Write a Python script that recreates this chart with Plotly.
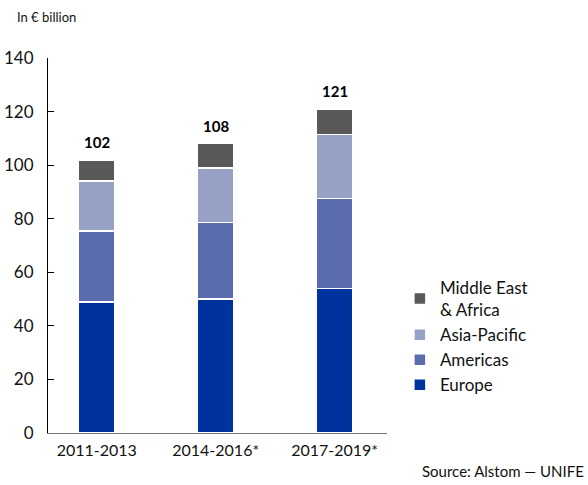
import plotly.graph_objects as go

periods = ["2011-2013", "2014-2016*", "2017-2019*"]
europe = [49, 50, 54]
americas = [26.5, 28.5, 33.5]
asia_pacific = [18.5, 20.5, 24]
mea = [8, 9, 9.5]
totals = [102, 108, 121]

series = [
    ("Europe", europe, "#00329e"),
    ("Americas", americas, "#5a6cae"),
    ("Asia-Pacific", asia_pacific, "#97a0c5"),
    ("Middle East<br>& Africa", mea, "#595959"),
]

FONT = "Lato"
TXT = "#111"
fig = go.Figure()
for name, vals, col in series:
    fig.add_trace(go.Bar(
        x=periods, y=vals, name=name, width=0.31,
        marker=dict(color=col, line=dict(color="white", width=1.5)),
        hoverinfo="y+name",
    ))

for p, t in zip(periods, totals):
    fig.add_annotation(x=p, y=t, text="<b>%d</b>" % t, showarrow=False,
                       yanchor="bottom", yshift=7,
                       font=dict(family=FONT, size=15, color="black"))

fig.add_annotation(xref="paper", yref="paper", x=-0.097, y=1.109, xanchor="left",
                   yanchor="middle", text="In € billion", showarrow=False,
                   font=dict(family=FONT, size=13, color=TXT))
fig.add_annotation(xref="paper", yref="paper", x=1.097, y=-0.10, xanchor="left",
                   yanchor="middle", text="Source: Alstom — UNIFE", showarrow=False,
                   font=dict(family=FONT, size=15, color=TXT))

fig.update_layout(
    barmode="stack",
    width=588, height=485,
    margin=dict(l=48, r=201, t=58, b=52),
    plot_bgcolor="white", paper_bgcolor="white",
    font=dict(family=FONT, size=16, color=TXT),
    showlegend=True,
    legend=dict(x=1.038, y=0.435, xanchor="left", yanchor="top",
                traceorder="reversed", font=dict(size=17, color=TXT),
                itemwidth=30, tracegroupgap=0),
    xaxis=dict(range=[-0.41, 2.44], showline=True, linecolor="#777", linewidth=1.2,
               showgrid=False, ticks="", tickfont=dict(size=16), ticklabelstandoff=3,
               automargin=False),
    yaxis=dict(range=[0, 140], dtick=20, showline=True, linecolor="black", linewidth=1,
               showgrid=False, zeroline=False, ticks="inside", ticklen=6,
               tickcolor="black", tickfont=dict(size=17), ticklabelstandoff=10,
               automargin=False),
)

fig.write_html("out.html", config={"displayModeBar": False},
               post_script="document.body.style.margin='0';document.body.style.overflow='hidden';")
